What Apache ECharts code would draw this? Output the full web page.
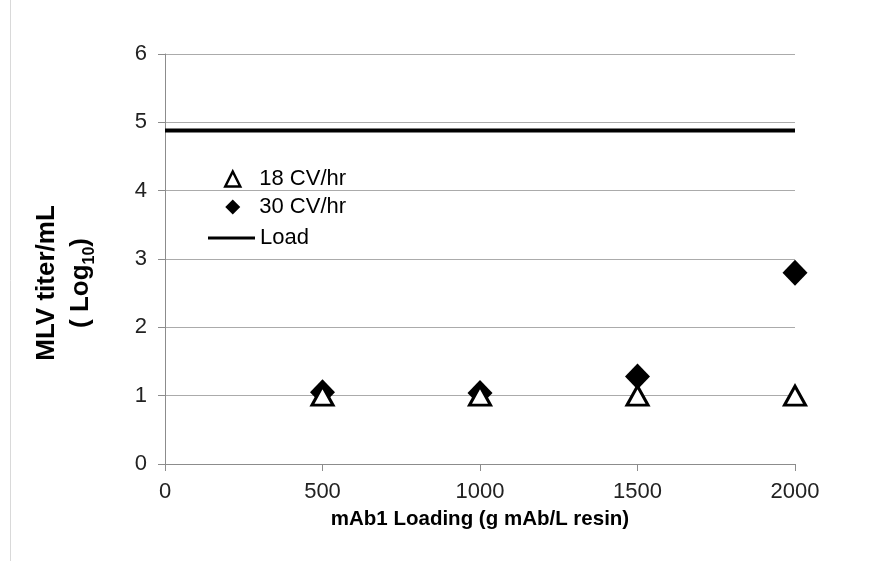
<!DOCTYPE html>
<html>
<head>
<meta charset="utf-8">
<script src="https://cdn.jsdelivr.net/npm/echarts@6/dist/echarts.min.js"></script>
<style>html,body{margin:0;padding:0;background:#fff;}#c{width:880px;height:561px;}</style>
</head>
<body>
<div id="c"></div>
<script>
var loadings = [500, 1000, 1500, 2000];
var cv18 = [1.0, 1.0, 1.0, 1.0];
var cv30 = [1.05, 1.04, 1.28, 2.8];
var loadX = [0, 2000];
var loadY = [4.88, 4.88];
var yTicks = [0, 1, 2, 3, 4, 5, 6];
var xTicks = [0, 500, 1000, 1500, 2000];

function pairs(xs, ys) { return xs.map(function (x, i) { return [x, ys[i]]; }); }

var font = 'Arial, "Liberation Sans", sans-serif';
var chart = echarts.init(document.getElementById('c'), null, { renderer: 'canvas' });
chart.setOption({
  animation: false,
  backgroundColor: '#ffffff',
  textStyle: { fontFamily: font },
  graphic: [{
    type: 'line', shape: { x1: 10.5, y1: 0, x2: 10.5, y2: 561 },
    style: { stroke: '#d9d9d9', lineWidth: 1 }, silent: true
  }],
  grid: { left: 165, right: 85, top: 54, bottom: 97, containLabel: false },
  legend: [{
    orient: 'vertical', left: 219, top: 163, itemGap: 6,
    itemWidth: 15, itemHeight: 15,
    textStyle: { fontSize: 22, lineHeight: 22, color: '#000', fontFamily: font, padding: [0, 0, 0, 14] },
    data: [
      { name: '18 CV/hr', icon: 'triangle', itemStyle: { color: '#fff', borderColor: '#000', borderWidth: 2.5 } },
      { name: '30 CV/hr', icon: 'diamond', itemStyle: { color: '#000', borderColor: '#000', borderWidth: 0 } }
    ]
  }, {
    orient: 'vertical', left: 203, top: 222, itemWidth: 47, itemHeight: 3,
    textStyle: { fontSize: 22, lineHeight: 22, color: '#000', fontFamily: font, padding: [0, 0, 0, 0] },
    data: [{ name: 'Load', icon: 'rect' }]
  }],
  xAxis: {
    type: 'value', min: 0, max: 2000, interval: 500,
    name: 'mAb1 Loading (g mAb/L resin)', nameLocation: 'middle', nameGap: 45,
    nameTextStyle: { fontSize: 20.5, fontWeight: 'bold', color: '#000', fontFamily: font },
    axisLine: { show: true, lineStyle: { color: '#8c8c8c', width: 1 } },
    axisTick: { show: true, length: 7, lineStyle: { color: '#8c8c8c' } },
    axisLabel: { fontSize: 22, color: '#222', margin: 17, fontFamily: font,
      formatter: function (v) { return xTicks.indexOf(v) >= 0 ? String(v) : ''; } },
    splitLine: { show: false }
  },
  yAxis: {
    type: 'value', min: 0, max: 6, interval: 1,
    name: '{t|MLV titer/mL}\n{t|( Log}{s|10}{t|)}', nameLocation: 'middle', nameRotate: 90, nameGap: 67,
    nameTextStyle: {
      color: '#000', fontFamily: font, lineHeight: 34, padding: [0, 48, 0, 0],
      rich: {
        t: { fontSize: 26, fontWeight: 'bold', color: '#000', fontFamily: font, lineHeight: 34 },
        s: { fontSize: 16, fontWeight: 'bold', color: '#000', fontFamily: font, verticalAlign: 'bottom', lineHeight: 34, padding: [12, 0, 0, 0] }
      }
    },
    axisLine: { show: true, lineStyle: { color: '#8c8c8c', width: 1 } },
    axisTick: { show: true, length: 7, lineStyle: { color: '#8c8c8c' } },
    axisLabel: { fontSize: 22, color: '#222', margin: 18, fontFamily: font,
      formatter: function (v) { return yTicks.indexOf(v) >= 0 ? String(v) : ''; } },
    splitLine: { show: true, lineStyle: { color: '#ababab', width: 1 } }
  },
  series: [{
    name: 'Load', type: 'line', data: pairs(loadX, loadY), symbol: 'none',
    lineStyle: { color: '#000', width: 4 }, itemStyle: { color: '#000' }, z: 2
  }, {
    name: '30 CV/hr', type: 'scatter', data: pairs(loadings, cv30),
    symbol: 'diamond', symbolSize: [25, 26],
    itemStyle: { color: '#000', borderColor: '#000', borderWidth: 0, opacity: 1 }, z: 3
  }, {
    name: '18 CV/hr', type: 'scatter', data: pairs(loadings, cv18),
    symbol: 'triangle', symbolSize: [21, 19],
    itemStyle: { color: '#fff', borderColor: '#000', borderWidth: 3, opacity: 1 }, z: 4
  }]
});
</script>
</body>
</html>
